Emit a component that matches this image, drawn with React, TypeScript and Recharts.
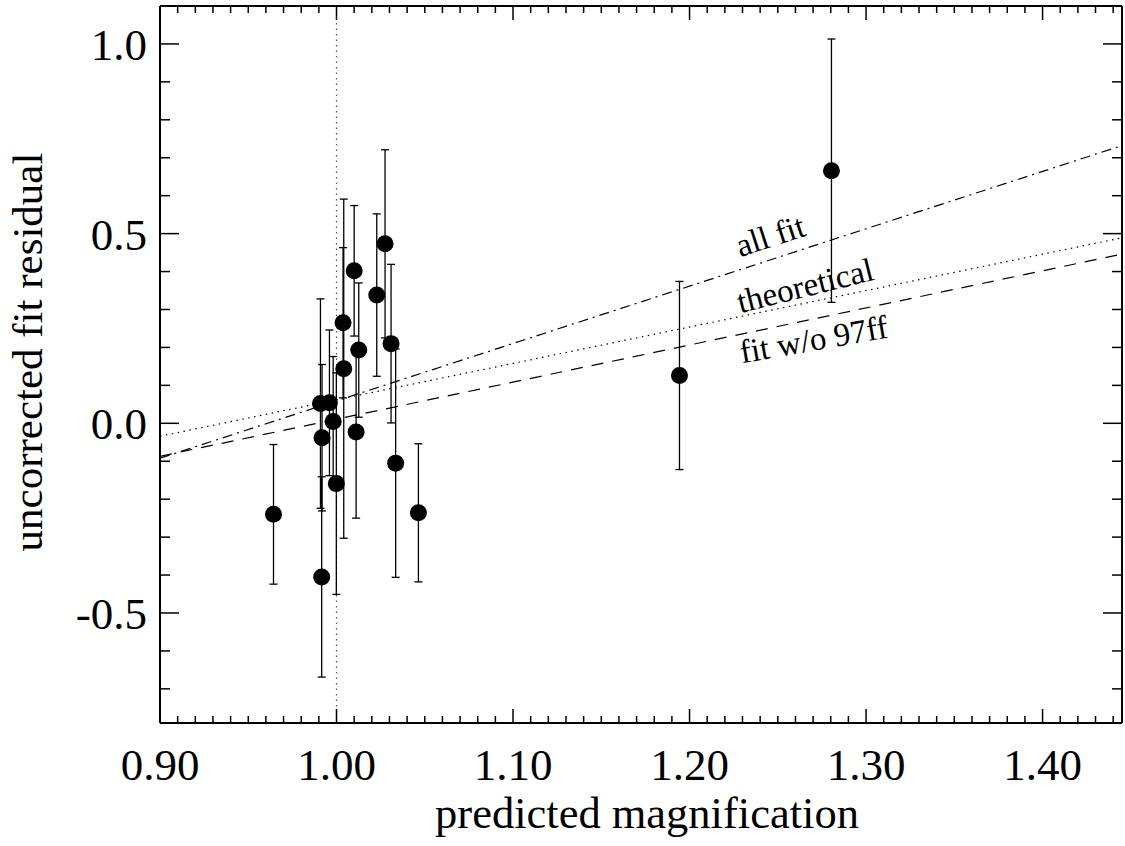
import {
  ScatterChart,
  Scatter,
  XAxis,
  YAxis,
  ErrorBar,
  ReferenceLine,
  ReferenceDot,
} from "recharts";

const FONT = "'Liberation Serif', 'Times New Roman', serif";

// measured points: predicted magnification vs uncorrected fit residual
const magnification = [
  0.9643, 0.9916, 0.9909, 0.996, 0.9981, 0.9918, 0.9999, 1.0037, 1.0041, 1.01,
  1.0126, 1.0111, 1.0228, 1.0275, 1.0309, 1.0335, 1.0464, 1.1943, 1.2804,
];
const residual = [
  -0.24, -0.405, 0.052, 0.054, 0.005, -0.038, -0.159, 0.265, 0.144, 0.402,
  0.193, -0.023, 0.338, 0.473, 0.21, -0.105, -0.236, 0.126, 0.666,
];
const residualErr = [
  0.184, 0.264, 0.276, 0.192, 0.171, 0.193, 0.292, 0.198, 0.447, 0.172,
  0.177, 0.227, 0.214, 0.248, 0.209, 0.301, 0.182, 0.248, 0.347,
];

// straight fit lines, end points at the plot edges
const fitX = [0.9, 1.445];
const allFitY = [-0.092, 0.732];
const theoreticalY = [-0.034, 0.489];
const fitNo97ffY = [-0.087, 0.446];

// in-plot labels
const labelText = ["all fit", "theoretical", "fit w/o 97ff"];
const labelX = [1.2287, 1.2287, 1.2297];
const labelY = [0.438, 0.29, 0.158];
const labelAngle = [-18, -14, -10];

const xMajorTicks = [0.9, 1.0, 1.1, 1.2, 1.3, 1.4];
const xTickLabels = ["0.90", "1.00", "1.10", "1.20", "1.30", "1.40"];
const yMajorTicks = [-0.5, 0, 0.5, 1.0];
const yTickLabels = ["-0.5", "0.0", "0.5", "1.0"];
const xAllTicks = Array.from({ length: 55 }, (_, i) => (90 + i) / 100);
const yAllTicks = Array.from({ length: 18 }, (_, i) => (i - 7) / 10);

const X_DOMAIN = [0.9, 1.445];
const Y_DOMAIN = [-0.79, 1.1];

const points = magnification.map((m, i) => ({ x: m, y: residual[i], err: residualErr[i] }));
const toLine = (ys: number[]) => fitX.map((x, i) => ({ x, y: ys[i] }));

const majorIndex = (list: number[], v: number) => list.findIndex((t) => Math.abs(t - v) < 1e-6);

const BottomTick = ({ x, y, payload }: any) => {
  const idx = majorIndex(xMajorTicks, payload.value);
  const len = idx >= 0 ? 14 : 7;
  return (
    <g>
      <line x1={x} y1={y} x2={x} y2={y - len} stroke="#000" strokeWidth={1.5} />
      {idx >= 0 && (
        <text x={x} y={y + 57} textAnchor="middle" fontSize={45} fontFamily={FONT} fill="#000">
          {xTickLabels[idx]}
        </text>
      )}
    </g>
  );
};

const TopTick = ({ x, y, payload }: any) => {
  const len = majorIndex(xMajorTicks, payload.value) >= 0 ? 14 : 7;
  return <line x1={x} y1={y} x2={x} y2={y + len} stroke="#000" strokeWidth={1.5} />;
};

const LeftTick = ({ x, y, payload }: any) => {
  const idx = majorIndex(yMajorTicks, payload.value);
  const len = idx >= 0 ? 19 : 10;
  return (
    <g>
      <line x1={x} y1={y} x2={x + len} y2={y} stroke="#000" strokeWidth={1.5} />
      {idx >= 0 && (
        <text x={x - 13} y={y + 16} textAnchor="end" fontSize={45} fontFamily={FONT} fill="#000">
          {yTickLabels[idx]}
        </text>
      )}
    </g>
  );
};

const RightTick = ({ x, y, payload }: any) => {
  const len = majorIndex(yMajorTicks, payload.value) >= 0 ? 19 : 10;
  return <line x1={x} y1={y} x2={x - len} y2={y} stroke="#000" strokeWidth={1.5} />;
};

const fitLabel = (i: number) => (props: any) => {
  const vb = props.viewBox || {};
  const cx = vb.x + (vb.width || 0) / 2;
  const cy = vb.y + (vb.height || 0) / 2;
  return (
    <text
      x={cx}
      y={cy}
      transform={`rotate(${labelAngle[i]} ${cx} ${cy})`}
      fontSize={33}
      fontFamily={FONT}
      fill="#000"
    >
      {labelText[i]}
    </text>
  );
};

const noShape = () => <g />;

export default function App() {
  return (
    <div style={{ width: 1125, height: 846, background: "#fff" }}>
      <style>{`body{margin:0}`}</style>
      <ScatterChart width={1125} height={846} margin={{ top: 5, right: 2, bottom: 0, left: 0 }}>
        <XAxis
          type="number"
          dataKey="x"
          domain={X_DOMAIN}
          ticks={xAllTicks}
          interval={0}
          tick={<BottomTick />}
          tickLine={false}
          tickSize={0}
          tickMargin={0}
          height={123}
          axisLine={{ stroke: "#000", strokeWidth: 2 }}
          allowDataOverflow
          label={() => (
            <text x={647} y={828} textAnchor="middle" fontSize={44.5} fontFamily={FONT} fill="#000">
              predicted magnification
            </text>
          )}
        />
        <XAxis
          xAxisId="top"
          orientation="top"
          type="number"
          dataKey="x"
          domain={X_DOMAIN}
          ticks={xAllTicks}
          interval={0}
          tick={<TopTick />}
          tickLine={false}
          tickSize={0}
          tickMargin={0}
          height={1}
          axisLine={{ stroke: "#000", strokeWidth: 2 }}
          allowDataOverflow
        />
        <YAxis
          type="number"
          dataKey="y"
          domain={Y_DOMAIN}
          ticks={yAllTicks}
          interval={0}
          tick={<LeftTick />}
          tickLine={false}
          tickSize={0}
          tickMargin={0}
          width={160}
          axisLine={{ stroke: "#000", strokeWidth: 2 }}
          allowDataOverflow
          label={() => (
            <text
              x={42}
              y={352}
              transform="rotate(-90 42 352)"
              textAnchor="middle"
              fontSize={43}
              fontFamily={FONT}
              fill="#000"
            >
              uncorrected fit residual
            </text>
          )}
        />
        <YAxis
          yAxisId="right"
          orientation="right"
          type="number"
          dataKey="y"
          domain={Y_DOMAIN}
          ticks={yAllTicks}
          interval={0}
          tick={<RightTick />}
          tickLine={false}
          tickSize={0}
          tickMargin={0}
          width={1}
          axisLine={{ stroke: "#000", strokeWidth: 2 }}
          allowDataOverflow
        />
        <ReferenceLine x={1.0} stroke="#555" strokeWidth={1.2} strokeDasharray="1.5 4" />
        <Scatter
          data={toLine(allFitY)}
          line={{ stroke: "#000", strokeWidth: 1.2, strokeDasharray: "10 5 2 5" }}
          lineType="joint"
          shape={noShape}
          isAnimationActive={false}
        />
        {/* bound to the mirrored top/right axes so they get drawn; same domains */}
        <Scatter
          xAxisId="top"
          yAxisId="right"
          data={toLine(theoreticalY)}
          line={{ stroke: "#000", strokeWidth: 1.2, strokeDasharray: "1.5 4.5" }}
          lineType="joint"
          shape={noShape}
          isAnimationActive={false}
        />
        <Scatter
          data={toLine(fitNo97ffY)}
          line={{ stroke: "#000", strokeWidth: 1.2, strokeDasharray: "12 9" }}
          lineType="joint"
          shape={noShape}
          isAnimationActive={false}
        />
        <Scatter
          data={points}
          shape={(p: any) => <circle cx={p.cx} cy={p.cy} r={8.5} fill="#000" />}
          isAnimationActive={false}
        >
          <ErrorBar
            dataKey="err"
            direction="y"
            width={4}
            stroke="#000"
            strokeWidth={1.3}
            isAnimationActive={false}
          />
        </Scatter>
        {labelText.map((t, i) => (
          <ReferenceDot
            key={t}
            x={labelX[i]}
            y={labelY[i]}
            r={0}
            fill="none"
            stroke="none"
            label={fitLabel(i)}
          />
        ))}
      </ScatterChart>
    </div>
  );
}
